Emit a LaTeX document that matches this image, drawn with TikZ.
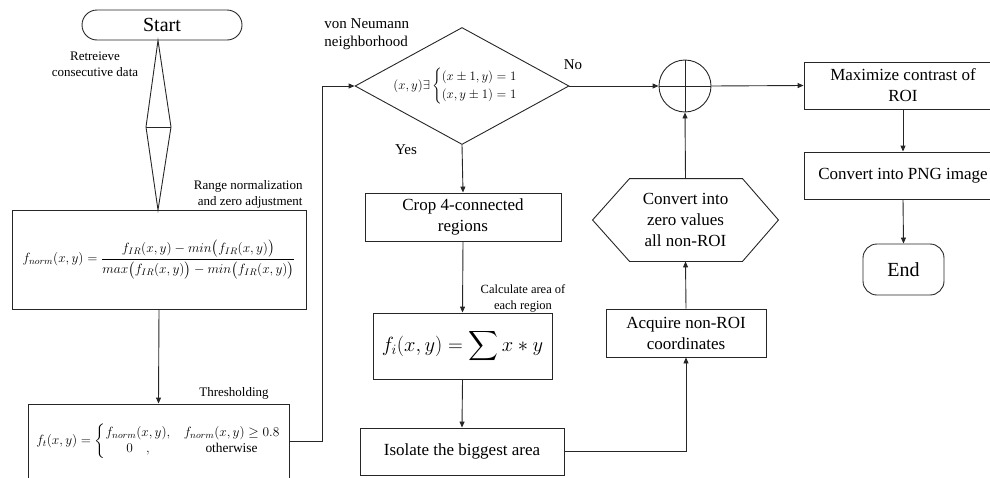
\RequirePackage{fix-cm}
\documentclass[tikz,border=0pt]{standalone}
\usepackage{amsmath}
\usepackage{fontspec}
\setmainfont{Liberation Serif}
\usetikzlibrary{arrows.meta,shapes.geometric,calc}
\begin{document}
\begin{tikzpicture}[x=1pt,y=-1pt,
  line width=0.9pt, draw=black!85,
  box/.style={draw,rectangle,inner sep=2pt,align=center,font=\fontsize{17}{21}\selectfont},
  term/.style={draw,rectangle,rounded corners=15pt,font=\fontsize{20}{24}\selectfont},
  lbl/.style={align=center,font=\fontsize{13}{16}\selectfont,inner sep=0pt},
  biglbl/.style={align=center,font=\fontsize{15}{18}\selectfont,inner sep=0pt},
  arr/.style={-{Triangle[length=6pt,width=5pt]}},
]
\useasboundingbox (0,0) rectangle (990,477);

% terminals
\node[term, minimum width=160pt, minimum height=30pt] (start) at (162,25) {Start};
\node[term, rounded corners=14pt, minimum width=81pt, minimum height=51pt] (end) at (903.5,269.5) {End};

% thin double-triangle
\coordinate (tdl) at (146,127);
\coordinate (tdr) at (171,127);
\coordinate (tdbot) at (158,210);
\coordinate (tdtop) at (158,40);

% boxes
\node[box, font=\fontsize{13.4}{16}\selectfont, minimum width=294pt, minimum height=99pt] (norm) at (159,259.5)
  {$f_{norm}(x,y) = \dfrac{f_{IR}(x,y) - min\big(f_{IR}(x,y)\big)}{max\big(f_{IR}(x,y)\big) - min\big(f_{IR}(x,y)\big)}$};
\node[box, font=\fontsize{13.4}{16}\selectfont, minimum width=261pt, minimum height=74pt] (thr) at (158.5,441)
  {$f_t(x,y) = \left\{\begin{array}{@{}c@{\quad}c@{}} f_{norm}(x,y), & f_{norm}(x,y) \ge 0.8\\ 0\quad , & \text{otherwise}\end{array}\right.$};
\node[draw, diamond, aspect=1.83, minimum width=214pt, minimum height=117pt, inner sep=0pt, font=\fontsize{12.9}{15}\selectfont] (dec) at (462,86)
  {$(x,y)\exists\begin{cases}(x\pm1,y)=1\\(x,y\pm1)=1\end{cases}$};
\node[box, minimum width=196pt, minimum height=48pt] (crop) at (463,217) {Crop 4-connected\\regions};
\node[box, minimum width=179pt, minimum height=66pt, font=\fontsize{20.5}{25}\selectfont] (area) at (462.5,346)
  {$f_i(x,y) = \displaystyle\sum x * y$};
\node[box, minimum width=204pt, minimum height=47pt] (iso) at (462,451.5) {Isolate the biggest area};
\node[box, minimum width=160pt, minimum height=48pt] (acq) at (686,333) {Acquire non-ROI\\coordinates};
\node[align=center, font=\fontsize{17}{21}\selectfont, minimum width=185pt, minimum height=82pt, inner sep=0pt] (hex) at (685.5,220)
  {Convert into\\zero values\\all non-ROI};
\node[draw, circle, minimum size=52pt, inner sep=0pt] (oplus) at (685,86) {};
\node[box, minimum width=198pt, minimum height=47pt] (max) at (903,85.5) {Maximize contrast of\\ROI};
\node[box, minimum width=198pt, minimum height=47pt] (png) at (903,175.5) {Convert into PNG image};

% shapes drawn
\draw (start.south -| tdtop) -- (tdl) -- (tdbot) -- (tdr) -- cycle;
\draw (tdl) -- (tdr);
\draw (hex.west) -- ([xshift=37pt]hex.north west) -- ([xshift=-36pt]hex.north east)
  -- (hex.east) -- ([xshift=-36pt]hex.south east) -- ([xshift=37pt]hex.south west) -- cycle;
\draw (oplus.north) -- (oplus.south) (oplus.west) -- (oplus.east);

% connectors
\coordinate (bend) at (322,0);
\draw[arr] (norm.south) -- (thr.north);
\draw[arr] (thr.east) -- (thr.east -| bend) |- (dec.west);
\draw[arr] (dec.east) -- (oplus.west);
\draw[arr] (dec.south) -- (crop.north);
\draw[arr] (crop.south) -- (area.north);
\draw[arr] (area.south) -- (iso.north);
\draw[arr] (iso.east) -| (acq.south);
\draw[arr] (acq.north) -- (hex.south);
\draw[arr] (hex.north) -- (oplus.south);
\draw[arr] (oplus.east) -- (max.west);
\draw[arr] (max.south) -- (png.north);
\draw[arr] (png.south) -- (end.north);

% labels
\node[lbl] (lret) at (95,64.5) {Retreieve\\consecutive data};
\node[lbl, align=right, anchor=east] (lrange) at (303,194) {Range normalization\\and zero adjustment};
\node[lbl] (lthr) at (234,393) {Thresholding};
\node[biglbl, align=left, anchor=west] (lvon) at (324,34) {von Neumann\\neighborhood};
\node[biglbl] (lno) at (573,65) {No};
\node[biglbl] (lyes) at (406,150) {Yes};
\node[lbl, font=\fontsize{12.5}{16}\selectfont] (lcalc) at (523,298) {Calculate area of\\each region};
\end{tikzpicture}
\end{document}
